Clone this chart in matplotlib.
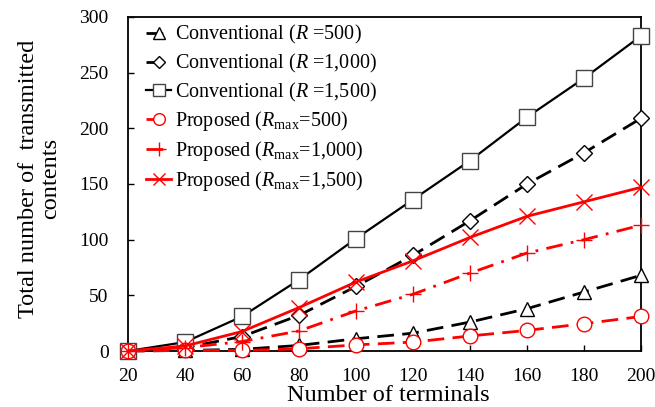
import matplotlib
matplotlib.use("Agg")
import matplotlib.pyplot as plt

plt.rcParams['font.family'] = ['Liberation Serif', 'DejaVu Serif']
plt.rcParams['mathtext.fontset'] = 'custom'
plt.rcParams['mathtext.rm'] = 'Liberation Serif'
plt.rcParams['mathtext.it'] = 'Liberation Serif:italic'

terminals = [20, 40, 60, 80, 100, 120, 140, 160, 180, 200]
conv_500 = [0, 0.5, 1.5, 5, 11, 16, 26, 38, 53, 68]
conv_1000 = [0, 3, 13, 32, 58, 86, 117, 150, 178, 209]
conv_1500 = [0, 8, 31, 64, 101, 136, 171, 210, 245, 283]
prop_500 = [0, 0.5, 0.5, 2, 5.5, 8, 13.5, 18.5, 24.5, 31]
prop_1000 = [0, 3, 8.5, 18, 36, 51, 70, 88, 100, 113]
prop_1500 = [0, 4.5, 17.5, 39, 62, 81, 102, 121, 134, 147]

labels = [
    r'Conventional ($R$ =500)',
    r'Conventional ($R$ =1,000)',
    r'Conventional ($R$ =1,500)',
    r'Proposed ($R_{\mathrm{max}}$=500)',
    r'Proposed ($R_{\mathrm{max}}$=1,000)',
    r'Proposed ($R_{\mathrm{max}}$=1,500)',
]

fig = plt.figure(figsize=(6.55, 4.07), dpi=100)
ax = fig.add_axes([128/655, 1-351/407, (641-128)/655, (351-17)/407])

common = dict(clip_on=False, zorder=3)
ax.plot(terminals, conv_500, color='black', lw=2, ls=(0, (6, 3)),
        marker='^', ms=10, mfc='white', mec='black', mew=1, label=labels[0], **common)
ax.plot(terminals, conv_1000, color='black', lw=2, ls=(0, (6, 3)),
        marker='D', ms=8, mfc='white', mec='black', mew=1, label=labels[1], **common)
ax.plot(terminals, conv_1500, color='black', lw=1.6, ls='-',
        marker='s', ms=11, mfc='white', mec='#444444', mew=1, label=labels[2], **common)
ax.plot(terminals, prop_500, color='red', lw=2, ls=(0, (6, 3)),
        marker='o', ms=10.5, mfc='white', mec='red', mew=1, label=labels[3], **common)
ax.plot(terminals, prop_1000, color='red', lw=2, ls=(0, (6, 3, 1, 3)),
        marker='+', ms=12, mec='red', mew=1, label=labels[4], **common)
ax.plot(terminals, prop_1500, color='red', lw=2, ls='-',
        marker='x', ms=11, mec='red', mew=1, label=labels[5], **common)

ax.set_xlim(20, 200)
ax.set_ylim(0, 300)
ax.set_xticks(terminals)
ax.set_yticks([0, 50, 100, 150, 200, 250, 300])
ax.tick_params(direction='in', labelsize=14, length=4, width=1)
ax.tick_params(axis='x', pad=12)
ax.tick_params(axis='y', pad=14)
for s in ax.spines.values():
    s.set_linewidth(1.3)

ax.set_xlabel('Number of terminals', fontsize=17.5)
ax.xaxis.set_label_coords(0.507, -0.101)
ax.set_ylabel('Total number of  transmitted\ncontents', fontsize=17.5,
              linespacing=1.1)
ax.yaxis.set_label_coords(-0.13, 0.516)

leg = ax.legend(loc='upper left', frameon=False, fontsize=14.5,
                handlelength=1.25, handletextpad=0.15, labelspacing=0.28,
                borderaxespad=0.0, markerscale=0.8,
                bbox_to_anchor=(0.02, 1.005))
fig.savefig('out.png', dpi=100)
